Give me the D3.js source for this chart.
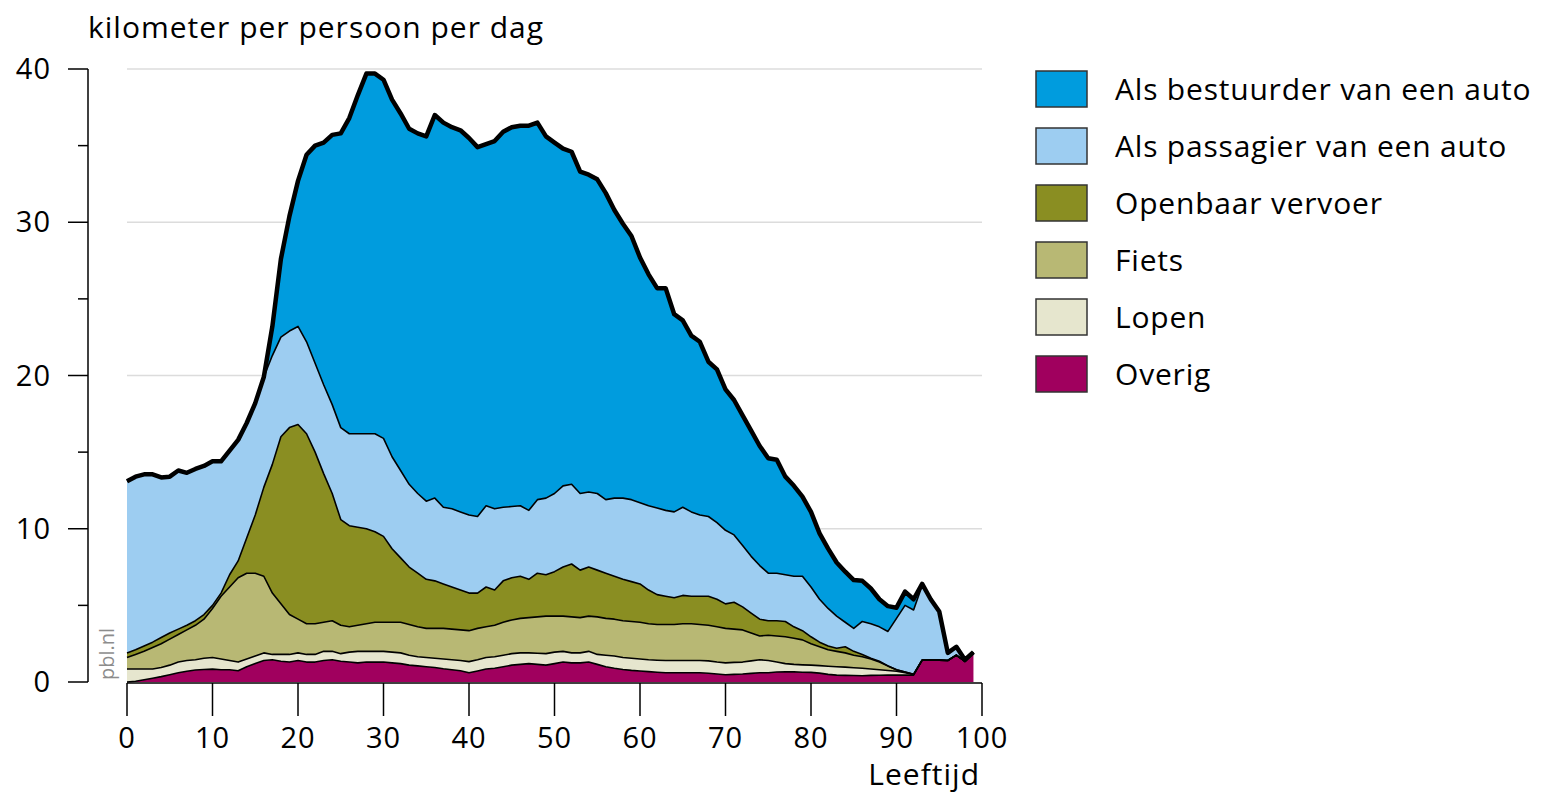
<!DOCTYPE html>
<html>
<head>
<meta charset="utf-8">
<script src="https://cdn.jsdelivr.net/npm/d3@7"></script>
<style>
  body { margin: 0; background: #fff; }
  svg { display: block; font-family: "Open Sans", "Noto Sans", sans-serif; }
</style>
</head>
<body>
<svg id="chart" width="1541" height="797"></svg>
<script>
// leeftijd 0 t/m 99
var ages = d3.range(0, 100);

// km per persoon per dag, per vervoerwijze (gestapeld van onder naar boven)
var overig = [0.0,0.05,0.15,0.25,0.35,0.47,0.6,0.7,0.78,0.82,
  0.84,0.8,0.8,0.73,1.0,1.2,1.4,1.45,1.35,1.3,
  1.4,1.3,1.3,1.4,1.45,1.35,1.3,1.25,1.3,1.3,
  1.3,1.25,1.2,1.1,1.05,1.0,0.95,0.86,0.8,0.73,
  0.6,0.72,0.85,0.9,1.0,1.1,1.15,1.2,1.15,1.1,
  1.2,1.3,1.25,1.25,1.3,1.15,1.0,0.9,0.82,0.76,
  0.72,0.68,0.64,0.6,0.6,0.6,0.6,0.6,0.57,0.52,
  0.47,0.5,0.52,0.56,0.6,0.6,0.65,0.67,0.66,0.64,
  0.63,0.58,0.5,0.45,0.43,0.42,0.41,0.43,0.44,0.45,
  0.45,0.45,0.45,1.43,1.43,1.43,1.4,1.75,1.35,1.9];
var lopen = [0.85,0.8,0.7,0.6,0.6,0.63,0.7,0.7,0.67,0.73,
  0.76,0.7,0.6,0.57,0.5,0.5,0.5,0.35,0.45,0.5,
  0.5,0.5,0.5,0.6,0.55,0.5,0.65,0.75,0.7,0.7,
  0.7,0.7,0.7,0.65,0.6,0.6,0.6,0.64,0.65,0.67,
  0.73,0.73,0.75,0.75,0.75,0.75,0.75,0.7,0.73,0.75,
  0.75,0.7,0.65,0.65,0.7,0.65,0.75,0.8,0.78,0.79,
  0.78,0.77,0.78,0.8,0.8,0.8,0.8,0.8,0.81,0.78,
  0.78,0.78,0.78,0.82,0.85,0.8,0.65,0.53,0.49,0.48,
  0.47,0.49,0.53,0.55,0.54,0.51,0.49,0.42,0.36,0.3,
  0.25,0.15,0.05,0,0,0,0,0,0,0];
var fiets = [0.75,0.95,1.15,1.4,1.55,1.7,1.8,2.0,2.25,2.55,
  3.2,4.1,4.8,5.5,5.6,5.4,5.0,4.0,3.3,2.6,
  2.2,2.0,2.0,1.9,2.0,1.85,1.65,1.7,1.8,1.9,
  1.9,1.95,2.0,2.0,1.95,1.9,1.95,2.0,2.0,2.0,
  2.02,2.05,2.0,2.05,2.15,2.2,2.25,2.3,2.37,2.45,
  2.35,2.3,2.35,2.3,2.3,2.45,2.4,2.4,2.4,2.4,
  2.4,2.35,2.33,2.35,2.35,2.4,2.4,2.35,2.32,2.3,
  2.25,2.17,2.1,1.82,1.55,1.65,1.7,1.75,1.7,1.63,
  1.4,1.23,1.07,1.0,0.93,0.82,0.75,0.65,0.5,0.3,
  0.1,0.05,0,0,0,0,0,0,0,0];
var openbaarVervoer = [0.3,0.3,0.35,0.35,0.4,0.4,0.35,0.3,0.3,0.3,
  0.2,0.2,0.8,1.1,2.3,3.8,5.8,8.4,10.9,12.2,
  12.7,12.4,11.2,9.7,8.3,6.9,6.6,6.4,6.2,5.9,
  5.6,4.8,4.2,3.75,3.5,3.2,3.1,2.9,2.75,2.6,
  2.45,2.3,2.6,2.3,2.7,2.75,2.75,2.5,2.85,2.7,
  2.9,3.2,3.45,3.1,3.2,3.05,2.95,2.8,2.7,2.6,
  2.5,2.2,1.95,1.85,1.75,1.85,1.8,1.85,1.9,1.8,
  1.6,1.75,1.5,1.3,1.1,0.95,1.0,1.0,0.75,0.6,
  0.45,0.3,0.25,0.2,0.4,0.25,0.15,0.05,0.05,0,
  0,0,0,0,0,0,0,0,0,0];
var passagier = [11.2,11.3,11.2,10.95,10.45,10.2,10.35,9.95,9.9,9.7,
  9.4,8.6,8.1,7.9,7.5,7.3,7.2,7.1,6.5,6.3,
  6.4,6.0,5.8,5.8,5.8,6.0,6.0,6.1,6.2,6.4,
  6.4,6.0,5.7,5.4,5.2,5.1,5.4,5.0,5.1,5.1,
  5.1,5.0,5.3,5.3,4.8,4.65,4.6,4.5,4.8,5.0,
  5.1,5.3,5.2,5.0,4.9,5.0,4.8,5.1,5.3,5.35,
  5.3,5.5,5.65,5.6,5.6,5.75,5.5,5.3,5.2,5.0,
  4.8,4.4,4.0,3.7,3.5,3.1,3.1,3.05,3.3,3.55,
  3.25,2.8,2.45,2.1,1.6,1.5,2.15,2.25,2.25,2.25,
  3.35,4.35,4.2,4.87,3.97,3.17,0.5,0.55,0.1,0.05];
var bestuurder = [0,0,0,0,0,0,0,0,0,0,
  0,0,0,0,0,0,0,1.9,5.1,7.5,
  9.5,12.2,14.2,15.8,17.6,19.2,20.6,22.1,23.5,23.5,
  23.4,23.3,23.3,23.2,23.5,23.8,25.0,25.1,24.9,24.9,
  24.6,24.1,23.6,24.0,24.5,24.75,24.8,25.1,24.6,23.6,
  22.9,22.0,21.7,21.0,20.7,20.5,20.0,18.8,17.9,17.2,
  16.0,15.1,14.35,14.5,12.9,12.2,11.5,11.3,10.1,10.0,
  9.2,8.8,8.5,8.2,7.8,7.5,7.4,6.4,5.9,5.2,
  4.9,4.3,3.9,3.5,3.3,3.15,2.65,2.3,1.8,1.65,
  0.7,0.9,0.7,0.1,0,0,0,0,0,0];

var seriesKeys = ["overig", "lopen", "fiets", "ov", "passagier", "bestuurder"];
var seriesColors = {
  bestuurder: "#009cde",
  passagier: "#9dcdf1",
  ov: "#8a8e22",
  fiets: "#b8b874",
  lopen: "#e6e6ce",
  overig: "#a0005e"
};
var legendLabels = ["Als bestuurder van een auto", "Als passagier van een auto",
  "Openbaar vervoer", "Fiets", "Lopen", "Overig"];
var legendKeys = ["bestuurder", "passagier", "ov", "fiets", "lopen", "overig"];
var yTicks = [0, 10, 20, 30, 40];
var yMinorTicks = [5, 15, 25, 35];
var xTicks = [0, 10, 20, 30, 40, 50, 60, 70, 80, 90, 100];

var table = ages.map(function (a, i) {
  return {
    age: a, overig: overig[i], lopen: lopen[i], fiets: fiets[i],
    ov: openbaarVervoer[i], passagier: passagier[i], bestuurder: bestuurder[i]
  };
});

var svg = d3.select("#chart");

var x = d3.scaleLinear().domain([0, 100]).range([127, 982]);
var y = d3.scaleLinear().domain([0, 40]).range([682, 69]);

// gridlines
svg.append("g")
  .selectAll("line")
  .data(yTicks.filter(function (d) { return d > 0; }))
  .enter().append("line")
  .attr("x1", x(0)).attr("x2", x(100))
  .attr("y1", function (d) { return y(d); })
  .attr("y2", function (d) { return y(d); })
  .attr("stroke", "#dcdcdc")
  .attr("stroke-width", 1.5);

var stacked = d3.stack().keys(seriesKeys)(table);

var area = d3.area()
  .x(function (d) { return x(d.data.age); })
  .y0(function (d) { return y(d[0]); })
  .y1(function (d) { return y(d[1]); });

var topLine = d3.line()
  .x(function (d) { return x(d.data.age); })
  .y(function (d) { return y(d[1]); });

svg.append("g")
  .selectAll("path")
  .data(stacked)
  .enter().append("path")
  .attr("fill", function (d) { return seriesColors[d.key]; })
  .attr("d", area);

svg.append("g")
  .selectAll("path")
  .data(stacked)
  .enter().append("path")
  .attr("fill", "none")
  .attr("stroke", "#000")
  .attr("stroke-linejoin", "round")
  .attr("stroke-width", function (d, i) { return i == stacked.length - 1 ? 4.5 : 1.6; })
  .attr("d", topLine);

// y axis
var yAxis = svg.append("g");
yAxis.append("line")
  .attr("x1", 88).attr("x2", 88)
  .attr("y1", y(40)).attr("y2", y(0))
  .attr("stroke", "#000").attr("stroke-width", 1.5);
yAxis.selectAll(".major")
  .data(yTicks)
  .enter().append("line")
  .attr("x1", 68).attr("x2", 88)
  .attr("y1", function (d) { return y(d); })
  .attr("y2", function (d) { return y(d); })
  .attr("stroke", "#000").attr("stroke-width", 1.5);
yAxis.selectAll(".minor")
  .data(yMinorTicks)
  .enter().append("line")
  .attr("x1", 78).attr("x2", 88)
  .attr("y1", function (d) { return y(d); })
  .attr("y2", function (d) { return y(d); })
  .attr("stroke", "#000").attr("stroke-width", 1.5);
yAxis.selectAll("text")
  .data(yTicks)
  .enter().append("text")
  .attr("x", 51)
  .attr("y", function (d) { return y(d); })
  .attr("dy", "0.35em")
  .attr("text-anchor", "end")
  .attr("font-size", "29px")
  .attr("letter-spacing", "1px")
  .text(function (d) { return d; });

// x axis
var xAxis = svg.append("g");
xAxis.append("line")
  .attr("x1", x(0)).attr("x2", x(100))
  .attr("y1", 683).attr("y2", 683)
  .attr("stroke", "#000").attr("stroke-width", 1.5);
xAxis.selectAll("line.tick")
  .data(xTicks)
  .enter().append("line")
  .attr("class", "tick")
  .attr("x1", function (d) { return x(d); })
  .attr("x2", function (d) { return x(d); })
  .attr("y1", 683).attr("y2", 716)
  .attr("stroke", "#000").attr("stroke-width", 1.5);
xAxis.selectAll("text")
  .data(xTicks)
  .enter().append("text")
  .attr("x", function (d) { return x(d); })
  .attr("y", 738)
  .attr("dy", "0.35em")
  .attr("text-anchor", "middle")
  .attr("font-size", "29px")
  .attr("letter-spacing", "1px")
  .text(function (d) { return d; });

svg.append("text")
  .attr("x", 980).attr("y", 785)
  .attr("text-anchor", "end")
  .attr("font-size", "30px")
  .attr("letter-spacing", "1px")
  .text("Leeftijd");

svg.append("text")
  .attr("x", 88).attr("y", 38)
  .attr("font-size", "30px")
  .attr("letter-spacing", "1px")
  .text("kilometer per persoon per dag");

svg.append("text")
  .attr("transform", "translate(114,680) rotate(-90)")
  .attr("font-size", "20px")
  .attr("fill", "#8c8c8c")
  .text("pbl.nl");

// legend
var legend = svg.append("g");
var rows = legend.selectAll("g")
  .data(legendKeys)
  .enter().append("g")
  .attr("transform", function (d, i) { return "translate(1036," + (71 + i * 57) + ")"; });
rows.append("rect")
  .attr("width", 51).attr("height", 36)
  .attr("fill", function (d) { return seriesColors[d]; })
  .attr("stroke", "#333").attr("stroke-width", 1.5);
rows.append("text")
  .attr("x", 79).attr("y", 18)
  .attr("dy", "0.35em")
  .attr("font-size", "30px")
  .attr("letter-spacing", "0.8px")
  .text(function (d, i) { return legendLabels[i]; });
</script>
</body>
</html>
